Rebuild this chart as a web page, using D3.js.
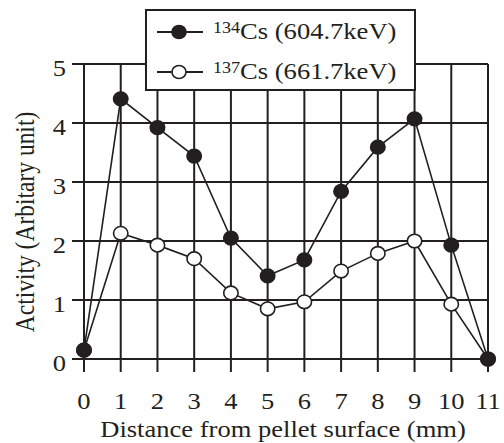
<!DOCTYPE html>
<html>
<head>
<meta charset="utf-8">
<script src="https://cdn.jsdelivr.net/npm/d3@7"></script>
<style>
  body { margin: 0; background: #fff; }
  svg text { font-family: "Liberation Serif", "Times New Roman", serif; fill: #231f20; }
</style>
</head>
<body>
<div id="chart"></div>
<script>
// ---- Data ----
const distances = [0, 1, 2, 3, 4, 5, 6, 7, 8, 9, 10, 11];
const cs134 = [0.15, 4.41, 3.92, 3.44, 2.05, 1.41, 1.68, 2.84, 3.59, 4.07, 1.93, 0];
const cs137 = [0.15, 2.13, 1.93, 1.70, 1.12, 0.85, 0.97, 1.49, 1.79, 2.0, 0.93, 0];
const yTicks = [0, 1, 2, 3, 4, 5];
const seriesInfo = [
    { mass: "134", label: "Cs (604.7keV)", values: cs134, filled: true },
    { mass: "137", label: "Cs (661.7keV)", values: cs137, filled: false }
];

const width = 504, height = 443;
const margin = { top: 64, right: 16, bottom: 84, left: 84 };
const innerW = width - margin.left - margin.right;
const innerH = height - margin.top - margin.bottom;
const ink = "#231f20";
const fs = 23.5;      // base font size
const sx = 1.13;      // the source figure is a little stretched sideways

const svg = d3.select("#chart").append("svg")
    .attr("width", width)
    .attr("height", height);

const g = svg.append("g")
    .attr("transform", `translate(${margin.left},${margin.top})`);

const x = d3.scaleLinear().domain([0, 11]).range([0, innerW]);
const y = d3.scaleLinear().domain([0, 5]).range([innerH, 0]);

// ---- Grid ----
g.selectAll(".hgrid")
    .data(yTicks)
    .join("line")
    .attr("class", "hgrid")
    .attr("x1", -12).attr("x2", innerW)
    .attr("y1", d => y(d)).attr("y2", d => y(d))
    .attr("stroke", ink).attr("stroke-width", 2);

g.selectAll(".vgrid")
    .data(distances)
    .join("line")
    .attr("class", "vgrid")
    .attr("x1", d => x(d)).attr("x2", d => x(d))
    .attr("y1", 0).attr("y2", innerH + 13)
    .attr("stroke", ink).attr("stroke-width", 2);

// ---- Tick labels ----
g.selectAll(".ylab")
    .data(yTicks)
    .join("text")
    .attr("class", "ylab")
    .attr("transform", d => `translate(-18,${y(d) + 12}) scale(${sx},1)`)
    .attr("text-anchor", "end")
    .attr("font-size", fs)
    .text(d => d);

g.selectAll(".xlab")
    .data(distances)
    .join("text")
    .attr("class", "xlab")
    .attr("transform", d => `translate(${x(d)},${innerH + 50}) scale(${sx},1)`)
    .attr("text-anchor", "middle")
    .attr("font-size", fs)
    .text(d => d);

// ---- Axis titles ----
svg.append("text")
    .attr("transform", `translate(283,437) scale(${sx},1)`)
    .attr("text-anchor", "middle")
    .attr("font-size", fs)
    .text("Distance from pellet surface (mm)");

svg.append("text")
    .attr("transform", `translate(34,222) scale(${sx},1) rotate(-90)`)
    .attr("text-anchor", "middle")
    .attr("font-size", fs)
    .text("Activity (Arbitary unit)");

// ---- Series ----
const line = d3.line()
    .x((d, i) => x(distances[i]))
    .y(d => y(d));

[...seriesInfo].reverse().forEach(s => {
    g.append("path")
        .datum(s.values)
        .attr("fill", "none")
        .attr("stroke", ink)
        .attr("stroke-width", 1.6)
        .attr("d", line);
});

[...seriesInfo].reverse().forEach(s => {
    g.selectAll(null)
        .data(s.values)
        .join("ellipse")
        .attr("cx", (d, i) => x(distances[i]))
        .attr("cy", d => y(d))
        .attr("rx", 7.2).attr("ry", 6.8)
        .attr("fill", s.filled ? ink : "#fff")
        .attr("stroke", ink)
        .attr("stroke-width", 1.6);
});

// ---- Legend ----
const legend = svg.append("g").attr("transform", "translate(146,10)");
legend.append("rect")
    .attr("width", 269).attr("height", 80)
    .attr("fill", "#fff")
    .attr("stroke", ink).attr("stroke-width", 2);

const rows = legend.selectAll(".row")
    .data(seriesInfo)
    .join("g")
    .attr("class", "row")
    .attr("transform", (d, i) => `translate(0,${22 + i * 40})`);

rows.append("line")
    .attr("x1", 11).attr("x2", 57)
    .attr("stroke", ink).attr("stroke-width", 1.8);
rows.append("ellipse")
    .attr("cx", 33).attr("rx", 7).attr("ry", 6.5)
    .attr("fill", d => d.filled ? ink : "#fff")
    .attr("stroke", ink).attr("stroke-width", 1.6);

const lt = rows.append("text")
    .attr("transform", `translate(67,7) scale(${sx},1)`)
    .attr("font-size", fs);
lt.append("tspan")
    .attr("font-size", 16)
    .attr("dy", -6)
    .text(d => d.mass);
lt.append("tspan")
    .attr("dy", 6)
    .text(d => d.label);
</script>
</body>
</html>
